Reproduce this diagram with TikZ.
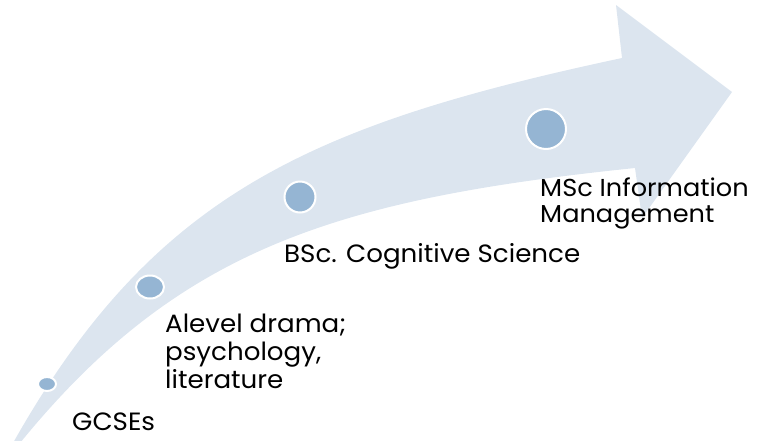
\documentclass[tikz,border=0pt]{standalone}
\usepackage{fontspec}
\setmainfont{Poppins}[FakeStretch=1.045]
\definecolor{arrowfill}{HTML}{DCE5EF}
\definecolor{dotfill}{HTML}{95B5D3}
\begin{document}
\begin{tikzpicture}[x=1pt,y=-1pt,
  milestone/.style={fill=dotfill,draw=white,line width=2pt},
  lbl/.style={inner sep=0pt,anchor=base west,align=left,text=black,font=\fontsize{25}{28}\selectfont},
  lblsmall/.style={lbl,font=\fontsize{24.5}{26}\selectfont}]
\useasboundingbox (0,0) rectangle (763,440);
\begin{scope}
\clip (0,0) rectangle (763,440);
\fill[arrowfill] (13,443) .. controls (153,195) and (308,125) .. (622,58)
  -- (616,5) -- (732,92) -- (642,218) -- (635,168)
  .. controls (336,199) and (178,249) .. (20,443) -- cycle;
\end{scope}
\draw[milestone] (47,384) ellipse [x radius=9, y radius=7];
\draw[milestone] (150,287) ellipse [x radius=14, y radius=11.5];
\draw[milestone] (300,197) circle [radius=15.5];
\draw[milestone] (546,129) circle [radius=20];
\node[lbl] (gcse) at (72,430) {GCSEs};
\node[lbl] (alevel) at (165,388) {Alevel drama;\\psychology,\\literature};
\node[lbl] (bsc) at (284,262) {BSc. Cognitive Science};
\node[lblsmall] (msc) at (540,222) {MSc Information\\Management};
\end{tikzpicture}
\end{document}
